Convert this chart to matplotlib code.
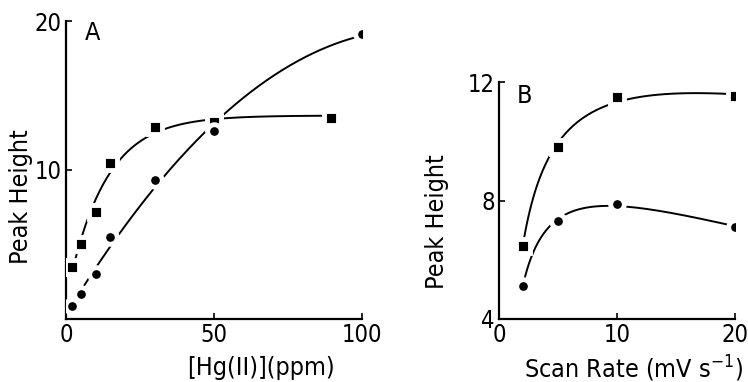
import numpy as np
import matplotlib
matplotlib.use("Agg")
import matplotlib.pyplot as plt

plt.rcParams['font.family'] = ['DejaVu Sans']
plt.rcParams['font.stretch'] = 'condensed'

# Panel A: peak height vs Hg(II) concentration
hg_sq_x = [2, 5, 10, 15, 30, 50, 89.5]
hg_sq_y = [3.5, 5.0, 7.2, 10.5, 12.9, 13.2, 13.5]
hg_ci_x = [2, 5, 10, 15, 30, 50, 100]
hg_ci_y = [0.9, 1.7, 3.0, 5.5, 9.3, 12.6, 19.1]

# Panel B: peak height vs scan rate
sr_x = [2, 5, 10, 20]
sr_sq_y = [6.47, 9.8, 11.5, 11.53]
sr_ci_y = [5.1, 7.3, 7.9, 7.1]


def saturating_fit(x, y, xs):
    """Least-squares fit of y = c + a*(1 - exp(-x/b)), b by grid search."""
    x = np.asarray(x, float); y = np.asarray(y, float)
    best = None
    for b in np.linspace(2, 40, 400):
        A = np.column_stack([1 - np.exp(-x / b), np.ones_like(x)])
        coef, *_ = np.linalg.lstsq(A, y, rcond=None)
        err = np.sum((A @ coef - y) ** 2)
        if best is None or err < best[0]:
            best = (err, b, coef)
    _, b, (a, c) = best
    return c + a * (1 - np.exp(-xs / b))


def quad_fit(x, y, xs):
    return np.polyval(np.polyfit(x, y, 2), xs)


def log_quad(x, y, xs):
    lx = np.log(np.asarray(x, float))
    return np.polyval(np.polyfit(lx, y, 2), np.log(xs))


fig = plt.figure(figsize=(7.48, 3.82), dpi=100)
axA = fig.add_axes([0.0882, 0.165, 0.3958, 0.780])
axB = fig.add_axes([0.667, 0.165, 0.316, 0.620])

lw = 1.4
mk = dict(color='black', markeredgecolor='white', markeredgewidth=3.5,
          linestyle='none', zorder=3)

# Panel A curves
xs = np.linspace(hg_sq_x[0], hg_sq_x[-1], 300)
axA.plot(xs, saturating_fit(hg_sq_x, hg_sq_y, xs), color='black', lw=lw)
xs = np.linspace(hg_ci_x[0], hg_ci_x[-1], 300)
axA.plot(xs, quad_fit(hg_ci_x, hg_ci_y, xs), color='black', lw=lw)
axA.plot(hg_sq_x, hg_sq_y, marker='s', markersize=9.8, **mk)
axA.plot(hg_ci_x, hg_ci_y, marker='o', markersize=9.8, **mk)

# Panel B curves
xs = np.linspace(sr_x[0], sr_x[-1], 300)
axB.plot(xs, log_quad(sr_x, sr_sq_y, xs), color='black', lw=lw)
axB.plot(xs, log_quad(sr_x, sr_ci_y, xs), color='black', lw=lw)
axB.plot(sr_x, sr_sq_y, marker='s', markersize=9.8, **mk)
axB.plot(sr_x, sr_ci_y, marker='o', markersize=9.8, **mk)

for ax in (axA, axB):
    for s in ('top', 'right'):
        ax.spines[s].set_visible(False)
    for s in ('left', 'bottom'):
        ax.spines[s].set_linewidth(1.6)
    ax.tick_params(direction='in', length=4, width=1.2, labelsize=17, pad=3)
    ax.set_facecolor('none')

axA.set_xlim(0, 100)
axA.set_ylim(0, 20)
axA.set_xticks([0, 50, 100])
axA.set_yticks([10, 20])
axA.set_xlabel('[Hg(II)](ppm)', fontsize=18, labelpad=0)
axA.xaxis.set_label_coords(0.66, -0.125)
axA.set_ylabel('Peak Height', fontsize=18, labelpad=4)
axA.yaxis.set_label_coords(-0.11, 0.41)
axA.text(0.09, 0.96, 'A', transform=axA.transAxes, fontsize=18,
         ha='center', va='center')

axB.set_xlim(0, 20)
axB.set_ylim(4, 12)
axB.set_xticks([0, 10, 20])
axB.set_yticks([4, 8, 12])
axB.set_xlabel('Scan Rate (mV s$^{-1}$)', fontsize=18, labelpad=0)
axB.xaxis.set_label_coords(0.57, -0.145)
axB.set_ylabel('Peak Height', fontsize=18, labelpad=4)
axB.yaxis.set_label_coords(-0.21, 0.41)
axB.text(0.11, 0.94, 'B', transform=axB.transAxes, fontsize=18,
         ha='center', va='center')

fig.savefig('out.png', dpi=100, facecolor='white')
